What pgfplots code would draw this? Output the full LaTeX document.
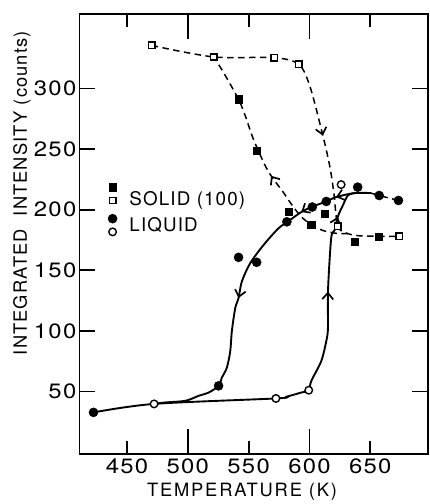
\documentclass[border=0pt]{standalone}
\usepackage{fontspec}
\setmainfont{TeX Gyre Heros}
\newfontfamily\tickfont{TeX Gyre Heros}[LetterSpace=6,FakeStretch=1.15]
\newfontfamily\xlabfont{TeX Gyre Heros}[LetterSpace=10]
\newfontfamily\labfont{TeX Gyre Heros}[LetterSpace=6]
\usepackage{pgfplots}
\pgfplotsset{compat=1.18}
\usetikzlibrary{arrows.meta,decorations.markings}

\tikzset{
  mybarb/.tip={Straight Barb[length=6.5bp,width=11bp,line width=1.7bp]},
  guide/.style={black,line width=1.9bp,smooth,tension=0.5},
  dguide/.style={black,line width=1.5bp,dash pattern=on 6.5bp off 4.5bp,smooth,tension=0.5},
}

\begin{document}
\begin{tikzpicture}
\begin{axis}[
  name=ax,
  scale only axis,
  width=351bp,height=443bp,
  xmin=411,xmax=697.6,ymin=-1.6,ymax=361.5,
  axis line style={line width=1.9bp},
  xtick={450,500,...,650},
  ytick={50,100,...,300},
  tick align=inside,
  xtick pos=both,ytick pos=both,
  major tick length=13bp,
  every tick/.style={black,line width=1.9bp},
  extra x ticks={500,600},extra x tick labels={},
  extra x tick style={major tick length=25bp},
  extra y ticks={50,100,...,300},extra y tick labels={},
  extra y tick style={major tick length=16bp},
  /pgf/number format/assume math mode=true,
  tick label style={font=\tickfont\fontsize{21}{21}\selectfont,inner sep=1bp},
  xticklabel style={yshift=-3.7bp},
  yticklabel style={xshift=-2bp},
  xlabel={TEMPERATURE (K)},
  xlabel style={font=\xlabfont\fontsize{18.5}{18.5}\selectfont,
    at={(axis description cs:0.466,0)},anchor=base,yshift=-43bp},
  ylabel={INTEGRATED\hspace{0.7em}INTENSITY (counts)},
  ylabel style={font=\labfont\fontsize{18.5}{18.5}\selectfont,
    at={(axis description cs:-0.165,0.5926)},anchor=center},
]

% solid phase, heating (dashed)
\addplot[dguide,postaction={decorate},
  decoration={markings,mark=at position 0.59 with {\arrow{mybarb}}}]
  coordinates {(470.4,335.5)(521.3,326)(571.1,325.4)(591.2,319.9)(600.4,301.6)
    (611.1,260.7)(616.8,235.2)(620.1,213.1)(623.3,186.3)(631.5,180.3)
    (643.7,178.3)(673.7,178.1)};
% solid phase, cooling (dashed)
\addplot[dguide,postaction={decorate},
  decoration={markings,mark=at position 0.435 with {\arrow{mybarb}}}]
  coordinates {(631.5,180.3)(623.3,180.3)(611.1,182.8)(601.5,187.7)(593.1,194.3)
    (584.9,204.9)(577.6,215.6)(570.2,225.4)(563.7,236.1)(553.9,258.2)
    (547.4,277)(541.7,291)(529.4,313.1)(521.3,326)};
% liquid, cooling
\addplot[guide,postaction={decorate},
  decoration={markings,
    mark=at position 0.103 with {\arrow{mybarb}},
    mark=at position 0.214 with {\arrow{mybarb}},
    mark=at position 0.535 with {\arrow{mybarb}}}]
  coordinates {(650.5,213.7)(636.9,213.7)(621.9,210.4)(613.8,206.8)(602.9,202.7)
    (593.3,198.1)(581.9,189.9)(574.3,184.4)(562.1,170.7)(551.2,155.7)
    (544.4,140.7)(541.7,127)(539.0,118.9)(536.2,99.8)(534.9,83.4)
    (532.1,69.7)(528.0,61.5)(525.3,54.7)(517.2,49.2)(509.0,46.5)
    (498.2,42.4)(481.8,41.0)(472.3,39.8)};
% liquid, heating
\addplot[guide,postaction={decorate},
  decoration={markings,
    mark=at position 0.75 with {\arrow{mybarb}},
    mark=at position 0.928 with {\arrow{mybarb}}}]
  coordinates {(422.5,32.8)(472.3,39.8)(572.4,44.3)(580.9,45.7)(593.3,49.2)
    (599.4,51.1)(601.5,58.8)(609.7,75.2)(613.8,91.6)(615.2,102.5)
    (615.2,132.8)(617.8,176.2)(620.6,183.0)(623.3,194.3)(627.4,203.5)
    (631.5,211.7)(636.9,213.7)};
\addplot[dguide] coordinates {(650.5,213.7)(657.3,211.7)(673.1,207.6)};

% data points
\addplot[only marks,mark=square*,mark size=3.7bp,black]
  coordinates {(541.7,291.0)(556.6,248.6)(583.1,198.1)(601.5,187.7)(612.4,196.7)
    (636.9,173.5)(656.8,177.6)};
\addplot[only marks,mark=square*,mark size=3.2bp,
  mark options={fill=white,draw=black,line width=1.6bp}]
  coordinates {(470.4,335.5)(521.3,326.0)(571.1,325.4)(591.2,319.9)(623.3,186.3)
    (673.7,178.1)};
\addplot[only marks,mark=*,mark size=4.6bp,black]
  coordinates {(422.5,32.8)(525.3,54.7)(541.7,160.7)(556.6,156.6)(581.4,190.0)
    (602.3,202.2)(613.8,206.8)(639.6,218.6)(657.3,211.7)(673.1,207.6)};
\addplot[only marks,mark=*,mark size=3.8bp,
  mark options={fill=white,draw=black,line width=1.4bp}]
  coordinates {(472.3,39.8)(572.4,44.3)(599.4,51.1)(626.0,220.7)};

% key
\addplot[only marks,mark=square*,mark size=3.7bp,black] coordinates {(438.2,218.6)};
\addplot[only marks,mark=square*,mark size=3.2bp,
  mark options={fill=white,draw=black,line width=1.6bp}] coordinates {(438.2,207.6)};
\addplot[only marks,mark=*,mark size=4.6bp,black] coordinates {(438.2,192.6)};
\addplot[only marks,mark=*,mark size=3.8bp,
  mark options={fill=white,draw=black,line width=1.4bp}] coordinates {(438.2,181.7)};
\node[anchor=base west,inner sep=0,font=\labfont\fontsize{19}{19}\selectfont]
  at (axis cs:451.9,203.3) {SOLID (100)};
\node[anchor=base west,inner sep=0,font=\labfont\fontsize{19}{19}\selectfont]
  at (axis cs:451.9,182) {LIQUID};
\end{axis}
\path ([xshift=-80bp,yshift=-47bp]ax.south west) rectangle ([xshift=1bp,yshift=14bp]ax.north east);
\end{tikzpicture}
\end{document}
